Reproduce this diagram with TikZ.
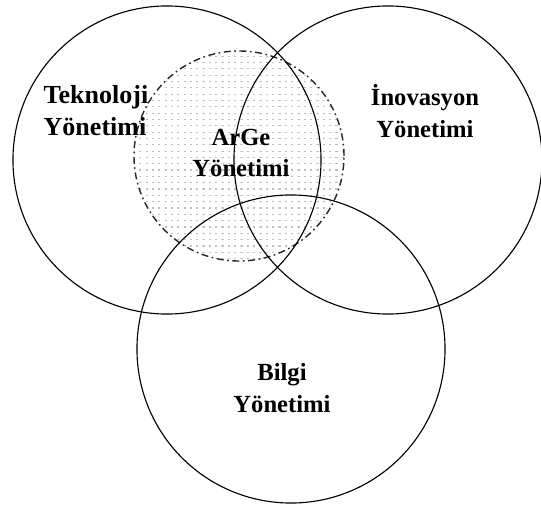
\documentclass[tikz,border=0pt]{standalone}
\usepackage{fontspec}
\setmainfont{Liberation Serif}
\usetikzlibrary{patterns.meta}

% small grid of dashes inside the ArGe circle
\tikzdeclarepattern{
  name=argegrid,
  type=uncolored,
  bottom left={(-.1pt,-.1pt)},
  top right={(4.6pt,4.6pt)},
  tile size={(4.5pt,4.5pt)},
  code={\tikzset{x=1pt,y=1pt}\fill (0,0) rectangle (1.6,0.8);}
}

\begin{document}
\begin{tikzpicture}[
    x=0.025cm, y=-0.025cm,
    venn/.style={circle, draw=black, line width=0.8pt, inner sep=0pt, minimum size=7.7cm},
    arge/.style={circle, draw=black!85, line width=1pt, inner sep=0pt, minimum size=5.25cm,
        dash pattern=on 5pt off 2.5pt on 1.2pt off 2.5pt, pattern=argegrid, pattern color=gray!50},
    lbl/.style={align=center, font=\fontsize{17.5}{22.7}\selectfont\bfseries, inner sep=0pt},
]
\useasboundingbox (0,0) rectangle (541,506);

% dotted circle
\node[arge] (argc) at (239,156) {};

% main circles
\node[venn] (tekc) at (167,160) {};
\node[venn] (inoc) at (388,160) {};
\node[venn] (bilc) at (291,349) {};

% labels
\node[lbl, align=left, font=\fontsize{18.5}{22.7}\selectfont\bfseries] (tek) at (96,111) {Teknoloji\\Yönetimi};
\node[lbl] (ino) at (425,111) {İnovasyon\\Yönetimi};
\node[lbl] (arg) at (241,153) {ArGe\\Yönetimi};
\node[lbl] (bil) at (282,388) {Bilgi\\Yönetimi};

\end{tikzpicture}
\end{document}
